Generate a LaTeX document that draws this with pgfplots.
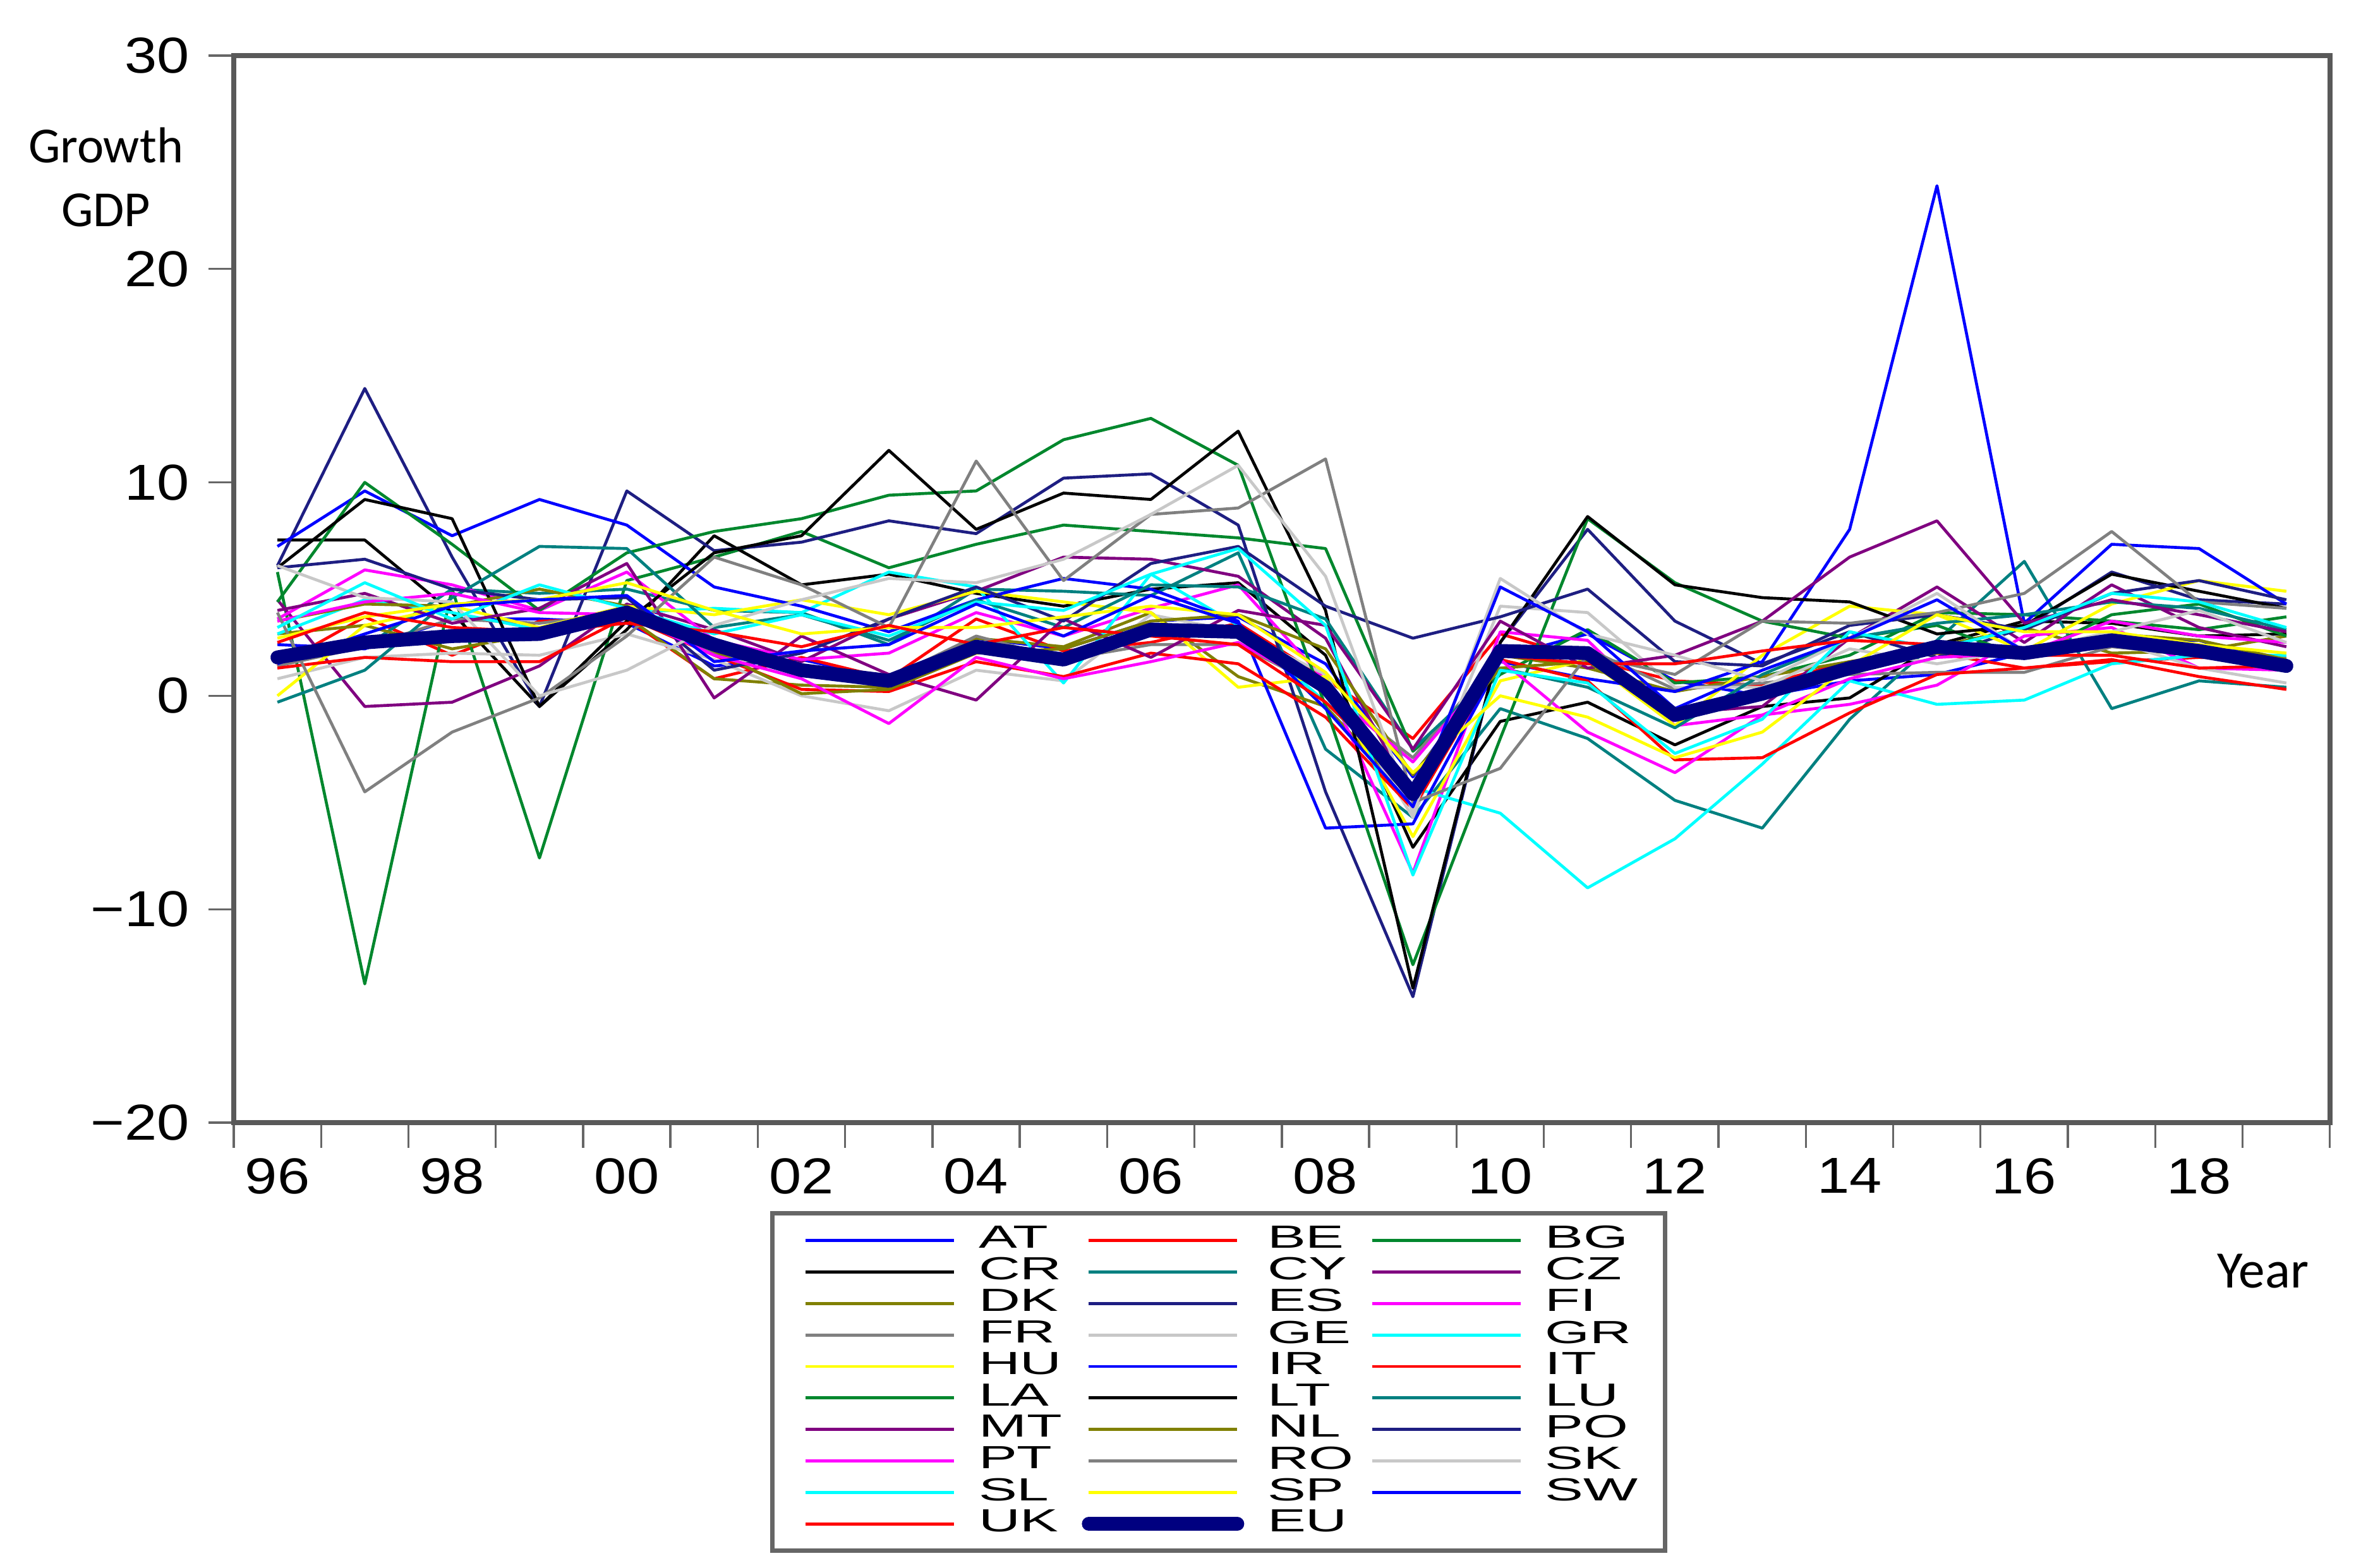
\documentclass[border=0pt]{standalone}
\usepackage{fontspec}
\setmainfont{Liberation Sans}
\newfontfamily\tickfont[FakeStretch=1.15]{Liberation Sans}
\newfontfamily\legfont[FakeStretch=1.8]{Liberation Sans}
\newfontfamily\labfont{Carlito}
\usepackage{pgfplots}
\usepackage{pgfplotstable}
\pgfplotsset{compat=1.18}

% EViews line palette
\definecolor{cA}{RGB}{0,0,255}
\definecolor{cB}{RGB}{255,0,0}
\definecolor{cC}{RGB}{0,135,45}
\definecolor{cD}{RGB}{0,0,0}
\definecolor{cE}{RGB}{0,128,128}
\definecolor{cF}{RGB}{128,0,128}
\definecolor{cG}{RGB}{128,128,0}
\definecolor{cH}{RGB}{30,30,130}
\definecolor{cI}{RGB}{255,0,255}
\definecolor{cJ}{RGB}{128,128,128}
\definecolor{cK}{RGB}{200,200,200}
\definecolor{cL}{RGB}{0,255,255}
\definecolor{cM}{RGB}{255,255,0}
\definecolor{euc}{RGB}{0,0,128}

% growth of GDP, one row per country, 1996-2019
\pgfplotstableread{
c 1996 1997 1998 1999 2000 2001 2002 2003 2004 2005 2006 2007 2008 2009 2010 2011 2012 2013 2014 2015 2016 2017 2018 2019
AT 2.4 2.2 3.6 3.6 3.4 1.4 1.7 0.8 2.7 2.2 3.5 3.7 1.5 -3.8 1.8 2.9 0.7 0.0 0.7 1.0 2.0 2.4 2.6 1.4
BE 1.4 3.7 1.9 3.5 3.6 0.8 1.8 0.8 3.6 2.1 2.5 3.4 0.8 -2.0 2.9 1.7 0.7 0.5 1.6 2.0 1.3 1.6 1.8 1.7
BG 5.8 -13.5 5.0 -7.6 5.4 6.5 7.7 6.0 7.1 8.0 7.7 7.4 6.9 -2.6 1.0 3.1 0.6 0.9 1.9 3.9 3.8 3.5 3.1 3.7
CR 7.3 7.3 3.9 -0.5 3.1 7.5 5.2 5.7 4.8 4.2 5.0 5.3 1.9 -7.1 -1.2 -0.3 -2.3 -0.5 -0.1 2.4 3.5 3.4 2.8 2.9
CY 1.8 2.3 5.0 4.8 5.0 4.0 3.9 2.4 5.0 4.9 4.7 6.7 -2.5 -5.7 -0.6 -2.0 -4.9 -6.2 -1.1 2.6 6.3 -0.6 0.7 0.4
CZ 4.5 -0.5 -0.3 1.4 4.3 3.1 1.6 3.6 4.9 6.5 6.4 5.6 2.7 -4.8 2.3 1.8 -0.8 -0.5 2.7 5.1 2.5 5.2 3.2 2.3
DK 2.9 3.3 2.2 2.9 3.7 0.8 0.5 0.4 2.7 2.3 3.9 0.9 -0.5 -4.9 1.9 1.3 0.2 0.9 1.6 2.3 3.2 2.0 2.1 2.8
ES 6.1 14.4 6.5 -0.5 9.6 6.8 7.2 8.2 7.6 10.2 10.4 8.0 -4.5 -14.1 2.5 7.8 3.5 1.5 3.0 1.8 3.2 5.8 4.5 4.3
FI 3.6 5.9 5.2 4.0 5.8 2.6 1.7 2.0 3.9 2.8 4.1 5.2 0.7 -8.3 3.0 2.6 -1.4 -0.9 -0.4 0.5 2.8 3.2 1.3 1.2
FR 1.4 2.3 3.6 3.4 3.9 2.0 1.1 0.8 2.8 1.7 2.4 2.4 0.3 -2.9 1.9 2.2 0.3 0.6 1.0 1.1 1.1 2.3 1.9 1.8
GE 0.8 1.8 2.0 1.9 2.9 1.7 0.0 -0.7 1.2 0.7 3.8 3.0 1.0 -5.7 4.2 3.9 0.4 0.4 2.2 1.5 2.2 2.6 1.3 0.6
GR 2.9 4.5 3.9 3.1 3.9 4.1 3.9 5.8 5.1 0.6 5.7 3.3 -0.3 -4.3 -5.5 -9.0 -6.7 -3.2 0.7 -0.4 -0.2 1.5 1.9 1.9
HU 0.0 3.3 4.2 3.2 4.2 3.8 4.5 3.8 4.9 4.4 3.9 0.4 0.9 -6.6 0.7 1.7 -1.4 1.9 4.2 3.8 2.1 4.3 5.4 4.9
IR 7.0 9.6 7.5 9.2 8.0 5.1 4.2 3.0 4.5 5.5 5.0 3.5 -6.2 -6.0 1.6 0.8 0.2 1.6 7.8 23.9 3.4 7.1 6.9 4.3
IT 1.3 1.8 1.6 1.6 3.7 1.9 0.3 0.2 1.6 0.9 2.0 1.5 -1.0 -5.3 1.7 0.7 -3.0 -2.9 -0.8 1.0 1.3 1.7 0.9 0.3
LA 4.4 10.0 7.1 4.0 6.7 7.7 8.3 9.4 9.6 12.0 13.0 10.8 -0.5 -12.6 -2.0 8.3 5.3 3.5 2.7 3.3 1.8 3.8 4.3 2.8
LT 6.0 9.2 8.3 -0.5 3.5 6.7 7.5 11.5 7.8 9.5 9.2 12.4 4.0 -13.7 2.5 8.4 5.2 4.6 4.4 2.9 3.3 5.7 4.9 4.1
LU -0.3 1.2 4.6 7.0 6.9 3.2 3.8 2.6 4.5 3.2 5.2 5.1 3.6 -2.5 1.3 0.4 -1.5 1.0 2.7 3.4 3.8 4.4 4.1 3.1
MT 4.0 4.8 3.4 4.1 6.2 -0.1 2.8 1.0 -0.2 3.6 1.8 4.0 3.3 -2.5 3.5 1.3 1.9 3.5 6.5 8.2 3.4 4.5 3.8 3.0
NL 3.5 4.3 4.2 5.0 4.2 2.1 0.1 0.3 2.0 2.2 3.5 3.8 2.2 -3.7 1.3 1.6 -1.0 -0.1 1.4 2.0 2.2 2.9 2.6 1.7
PO 6.0 6.4 5.0 4.5 4.6 1.2 2.0 3.6 5.1 3.5 6.2 7.0 4.2 2.7 3.7 5.0 1.6 1.4 3.3 3.8 3.1 4.8 5.4 4.5
PT 3.5 4.4 4.8 3.9 3.8 1.9 0.8 -1.3 1.8 0.8 1.6 2.5 0.3 -3.1 1.7 -1.7 -3.6 -0.9 0.8 1.8 2.0 3.5 2.8 2.5
RO 3.9 -4.5 -1.7 -0.1 2.8 6.5 5.2 3.2 11.0 5.4 8.5 8.8 11.1 -5.0 -3.4 1.9 1.0 3.5 3.4 3.9 4.8 7.7 4.4 4.1
SK 6.1 4.6 4.4 0.0 1.2 3.3 4.5 5.5 5.3 6.4 8.5 10.8 5.6 -5.5 5.5 2.9 1.9 0.7 2.7 4.8 2.1 3.0 4.0 2.5
SL 3.2 5.3 3.6 5.2 4.1 2.9 3.8 2.8 4.4 4.0 5.7 6.9 3.3 -8.4 1.2 0.6 -2.7 -1.1 3.0 2.2 3.2 4.8 4.4 3.2
SP 2.7 3.7 4.3 4.5 5.3 4.0 2.9 3.2 3.2 3.7 4.2 3.8 1.1 -3.6 0.0 -1.0 -2.9 -1.7 1.4 3.8 3.0 3.0 2.4 2.0
SW 1.5 2.9 4.2 4.5 4.7 1.6 2.1 2.4 4.3 2.8 4.7 3.4 -0.6 -5.2 5.1 3.0 -0.6 1.2 2.7 4.5 2.1 2.6 2.0 1.4
UK 2.5 3.9 3.2 3.0 3.4 3.0 2.3 3.3 2.4 3.2 2.8 2.4 -0.3 -4.2 1.9 1.5 1.5 2.1 2.6 2.4 1.9 1.9 1.3 1.4
EU 1.8 2.5 2.8 2.9 3.9 2.4 1.2 0.7 2.3 1.7 3.1 3.0 0.4 -4.6 2.1 2.0 -0.9 0.1 1.3 2.3 2.0 2.6 2.1 1.4
}\gdpraw
\pgfplotstabletranspose[colnames from=c, input colnames to=year]\gdp\gdpraw

\newcommand\lgd[1]{\makebox[21pt][l]{\vphantom{A}#1}}

\begin{document}
\begin{tikzpicture}
\path[use as bounding box] (-55.5pt,-105.75pt) rectangle (505.05pt,266.55pt);
\begin{axis}[
  at={(0,0)}, anchor=south west,
  scale only axis,
  width=497.7pt, height=253.35pt,
  xmin=1995.5, xmax=2019.5,
  ymin=-20, ymax=30,
  xtick={1995.5,1996.5,...,2019.5},
  xticklabels={96,,98,,00,,02,,04,,06,,08,,10,,12,,14,,16,,18,,},
  x tick label style={xshift=10.37pt, yshift=1pt},
  ytick={-20,-10,0,10,20,30},
  yticklabels={−20,−10,0,10,20,30},
  y tick label style={xshift=-1pt},
  ticklabel style={font=\tickfont\fontsize{12}{14}\selectfont},
  tick pos=left,
  tick align=outside,
  major tick length=6pt,
  tick style={black!60, line width=0.5pt},
  axis line style={black!65, line width=1.1pt},
  ylabel={Growth\\GDP},
  ylabel style={rotate=-90, at={(-0.061,0.886)}, anchor=center, align=center,
    font=\labfont\fontsize{12}{15.2}\selectfont},
  xlabel={Year},
  xlabel style={at={(0.968,-0.139)}, anchor=center, font=\labfont\fontsize{12.5}{14}\selectfont},
  no markers,
  every axis plot/.append style={line width=0.7pt, line join=round},
  legend columns=3,
  legend image code/.code={\draw[#1] (0pt,0pt) -- (35.25pt,0pt);},
  legend style={
    at={(0.256,-0.083)}, anchor=north west,
    draw=black!60, line width=1pt,
    font=\legfont\fontsize{7.6}{8}\selectfont,
    nodes={inner sep=0pt},
    inner xsep=7.5pt, inner ysep=3pt,
    row sep=0.7pt,
    /tikz/every odd column/.append style={column sep=5.5pt},
    /tikz/every even column/.append style={column sep=3.5pt},
  },
]
\addplot[cA] table[x=year,y=AT]{\gdp}; \addlegendentry{\lgd{AT}}
\addplot[cB] table[x=year,y=BE]{\gdp}; \addlegendentry{\lgd{BE}}
\addplot[cC] table[x=year,y=BG]{\gdp}; \addlegendentry{\lgd{BG}}
\addplot[cD] table[x=year,y=CR]{\gdp}; \addlegendentry{\lgd{CR}}
\addplot[cE] table[x=year,y=CY]{\gdp}; \addlegendentry{\lgd{CY}}
\addplot[cF] table[x=year,y=CZ]{\gdp}; \addlegendentry{\lgd{CZ}}
\addplot[cG] table[x=year,y=DK]{\gdp}; \addlegendentry{\lgd{DK}}
\addplot[cH] table[x=year,y=ES]{\gdp}; \addlegendentry{\lgd{ES}}
\addplot[cI] table[x=year,y=FI]{\gdp}; \addlegendentry{\lgd{FI}}
\addplot[cJ] table[x=year,y=FR]{\gdp}; \addlegendentry{\lgd{FR}}
\addplot[cK] table[x=year,y=GE]{\gdp}; \addlegendentry{\lgd{GE}}
\addplot[cL] table[x=year,y=GR]{\gdp}; \addlegendentry{\lgd{GR}}
\addplot[cM] table[x=year,y=HU]{\gdp}; \addlegendentry{\lgd{HU}}
\addplot[cA] table[x=year,y=IR]{\gdp}; \addlegendentry{\lgd{IR}}
\addplot[cB] table[x=year,y=IT]{\gdp}; \addlegendentry{\lgd{IT}}
\addplot[cC] table[x=year,y=LA]{\gdp}; \addlegendentry{\lgd{LA}}
\addplot[cD] table[x=year,y=LT]{\gdp}; \addlegendentry{\lgd{LT}}
\addplot[cE] table[x=year,y=LU]{\gdp}; \addlegendentry{\lgd{LU}}
\addplot[cF] table[x=year,y=MT]{\gdp}; \addlegendentry{\lgd{MT}}
\addplot[cG] table[x=year,y=NL]{\gdp}; \addlegendentry{\lgd{NL}}
\addplot[cH] table[x=year,y=PO]{\gdp}; \addlegendentry{\lgd{PO}}
\addplot[cI] table[x=year,y=PT]{\gdp}; \addlegendentry{\lgd{PT}}
\addplot[cJ] table[x=year,y=RO]{\gdp}; \addlegendentry{\lgd{RO}}
\addplot[cK] table[x=year,y=SK]{\gdp}; \addlegendentry{\lgd{SK}}
\addplot[cL] table[x=year,y=SL]{\gdp}; \addlegendentry{\lgd{SL}}
\addplot[cM] table[x=year,y=SP]{\gdp}; \addlegendentry{\lgd{SP}}
\addplot[cA] table[x=year,y=SW]{\gdp}; \addlegendentry{\lgd{SW}}
\addplot[cB] table[x=year,y=UK]{\gdp}; \addlegendentry{\lgd{UK}}
\addplot[euc, line width=3.3pt, line cap=round] table[x=year,y=EU]{\gdp}; \addlegendentry{\lgd{EU}}
\end{axis}
\end{tikzpicture}
\end{document}
